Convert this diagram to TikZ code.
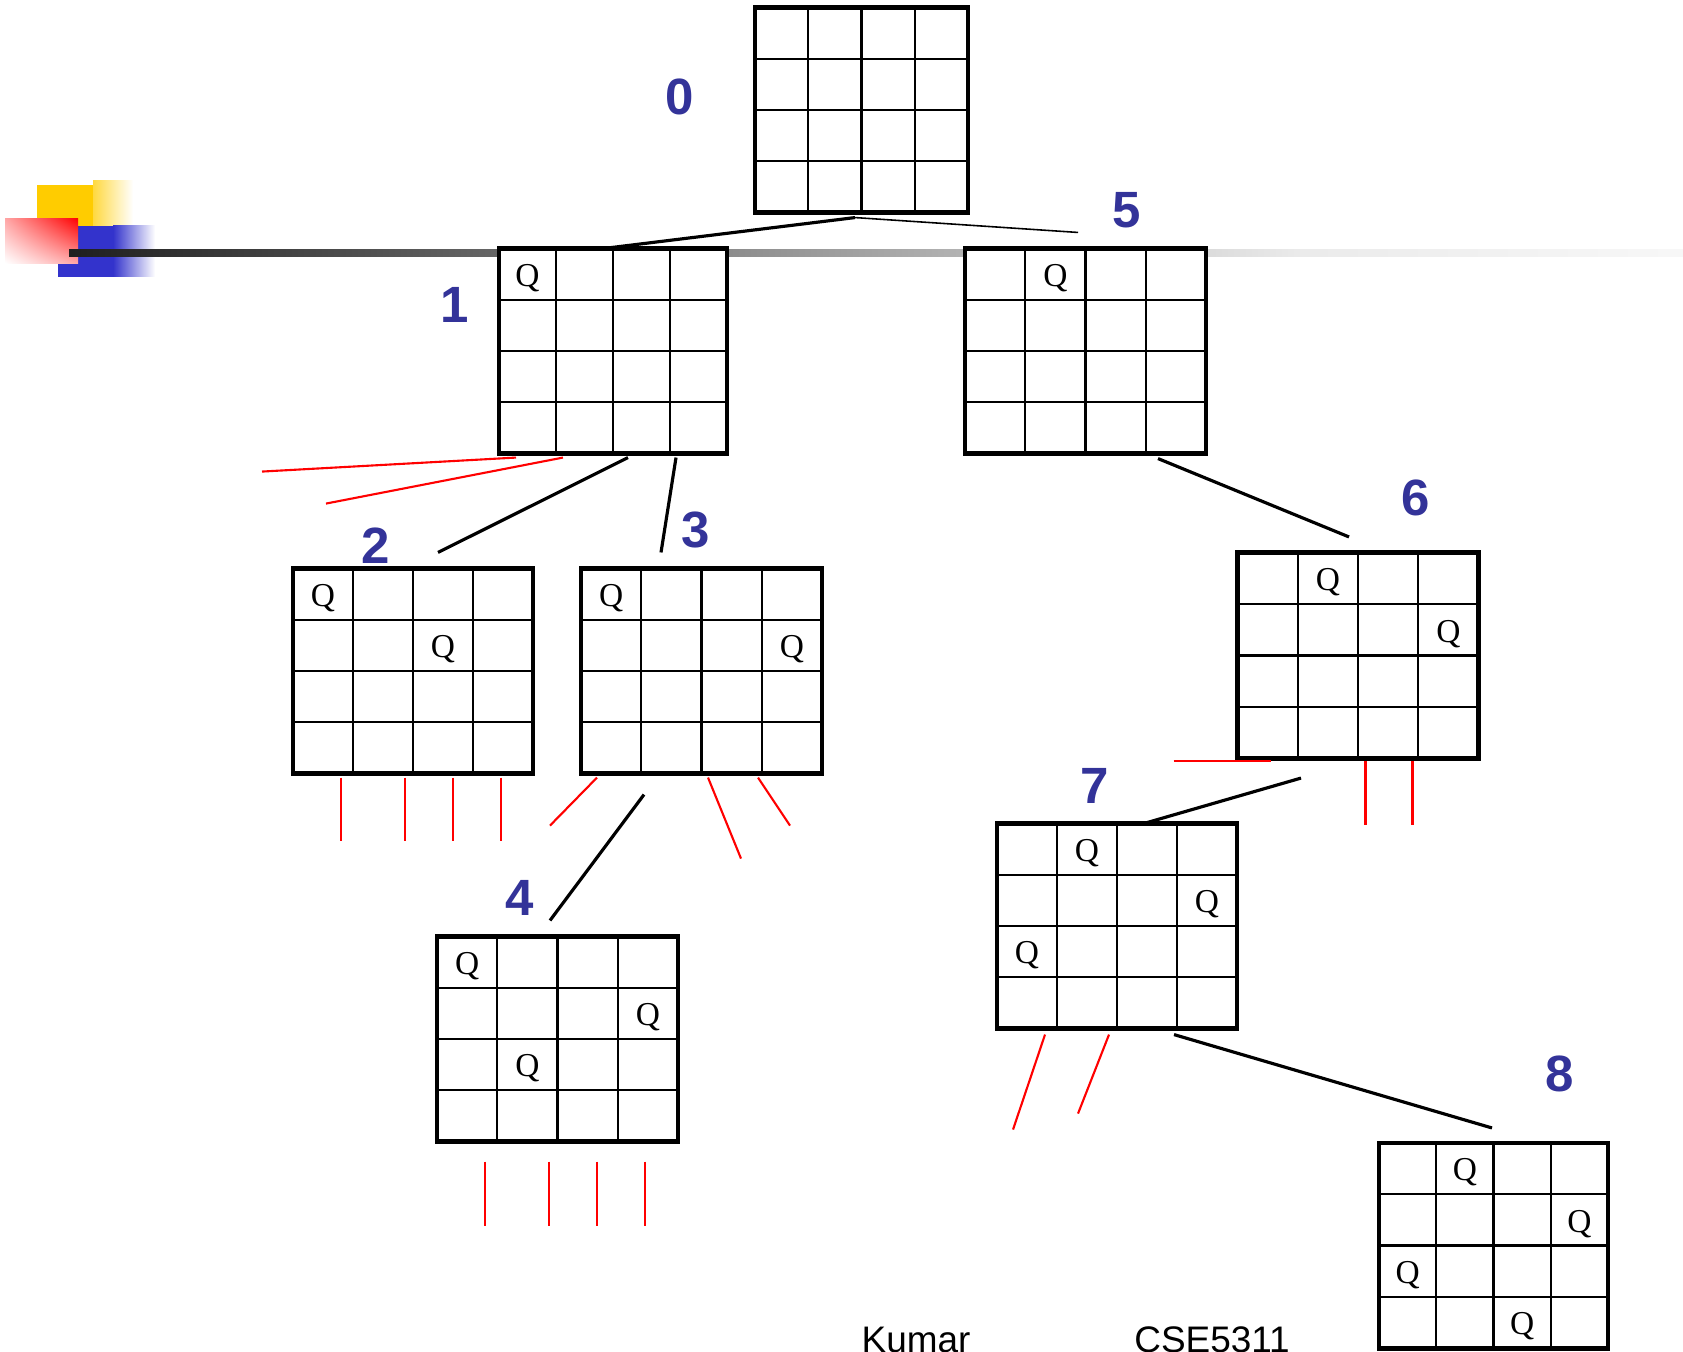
\documentclass[tikz,border=0pt]{standalone}
\usepackage{fontspec}
\setmainfont{Liberation Serif}
\setsansfont{Liberation Sans}
\usetikzlibrary{calc, shadings}

\definecolor{levelblue}{RGB}{51,51,153}
\definecolor{deckyellow}{RGB}{255,204,0}
\definecolor{deckblue}{RGB}{51,51,204}

%% board: name, centre x, centre y, width (px), queens as col/row
\newcommand{\drawboard}[5]{%
  \node[board, minimum width={#4*0.01cm}] (#1) at (#2,#3) {};
  \foreach \k in {1,2,3} {
    \draw[cell] ($(#1.north west)!\k/4!(#1.north east)$) -- ($(#1.south west)!\k/4!(#1.south east)$);
    \draw[cell] ($(#1.north west)!\k/4!(#1.south west)$) -- ($(#1.north east)!\k/4!(#1.south east)$);
  }
  \foreach \c/\r in {#5} {
    \node[queen] (#1-q\c\r) at ($(#1.north west)+({(\c+0.5)*#4/4},{(\r+0.5)*205/4+4})$) {Q};
  }
}

\begin{document}
\begin{tikzpicture}[
  x=0.01cm, y=-0.01cm,
  %% Board and cell styles
  board/.style={
    draw=black, fill=white, line width=1.4pt,
    minimum height=2.05cm, inner sep=0pt, outer sep=0pt
  },
  cell/.style={draw=black, line width=0.6pt},
  queen/.style={inner sep=0pt, font=\fontsize{9.5}{11}\selectfont},
  %% Labels
  level/.style={
    inner sep=0pt, text=levelblue,
    font=\sffamily\bfseries\fontsize{14.5}{17}\selectfont
  },
  footer/.style={inner sep=0pt, font=\sffamily\fontsize{10.5}{12}\selectfont},
  %% Tree edges
  branch/.style={draw=black, line width=0.9pt},
  thinbranch/.style={draw=black, line width=0.45pt},
  pruned/.style={draw=red, line width=0.6pt},
]
\useasboundingbox (0,0) rectangle (1683,1351);

%% ── SLIDE DECORATION ──────────────────────────────────────────────────────
\fill[deckyellow] (37,185) rectangle (93,226);
\shade[left color=deckyellow!75, right color=white] (93,180) rectangle (133,226);
\fill[deckblue] (58,226) rectangle (113,277);
\shade[left color=deckblue, right color=white] (113,225) rectangle (155,276);
\shade[upper right=red, upper left=red!35, lower right=red!35, lower left=white]
  (5,218) rectangle (78,263);
\shade[left color=black!88, right color=black!8] (69,249) rectangle (1300,256);
\shade[left color=black!8, right color=black!3] (1300,249) rectangle (1683,256);

%% ── BOARDS ────────────────────────────────────────────────────────────────
\drawboard{b0}{861.5}{110}{213}{}
\drawboard{b1}{613}{351}{228}{0/0}
\drawboard{b5}{1085.5}{351}{241}{1/0}
\drawboard{b2}{413}{671}{240}{0/0, 2/1}
\drawboard{b3}{701.5}{671}{241}{0/0, 3/1}
\drawboard{b6}{1358}{655.5}{241}{1/0, 3/1}
\drawboard{b7}{1117}{926}{240}{1/0, 3/1, 0/2}
\drawboard{b4}{557.5}{1039}{241}{0/0, 3/1, 1/2}
\drawboard{b8}{1493.5}{1245.5}{229}{1/0, 3/1, 0/2, 2/3}

%% ── LEVEL NUMBERS ─────────────────────────────────────────────────────────
\node[level] (l0) at (680,97)     {0};
\node[level] (l1) at (455,305)    {1};
\node[level] (l2) at (376,546)    {2};
\node[level] (l3) at (695.5,530)  {3};
\node[level] (l4) at (519.5,897.5){4};
\node[level] (l5) at (1127,210)   {5};
\node[level] (l6) at (1416,498)   {6};
\node[level] (l7) at (1095,786)   {7};
\node[level] (l8) at (1559.5,1073.5) {8};

%% ── TREE EDGES ────────────────────────────────────────────────────────────
\draw[branch]     ($(b0.south)+(-6.5,5)$) -- ($(b1.north)+(-9,0)$);
\draw[thinbranch] ($(b0.south)+(-6.5,5)$) -- ($(b5.north)+(-7.5,-16)$);
\draw[branch] ($(b1.south)+(15,4)$)    -- ($(b2.north)+(25,-16)$);
\draw[branch] ($(b1.south)+(63,4)$)    -- ($(b3.north)+(-40.5,-16)$);
\draw[branch] ($(b3.south)+(-57.5,21)$) -- ($(b4.north)+(-7.5,-16)$);
\draw[branch] ($(b5.south)+(72.5,5)$)  -- ($(b6.north)+(-9,-16)$);
\draw[branch] ($(b6.south)+(-57,20)$)  -- ($(b7.north)+(27,0)$);
\draw[branch] ($(b7.south)+(57,6)$)    -- ($(b8.north)+(-1.5,-15)$);

%% ── PRUNED BRANCHES ───────────────────────────────────────────────────────
\draw[pruned] ($(b1.south west)+(17,4)$) -- ++(-254,14);
\draw[pruned] ($(b1.south west)+(64,4)$) -- ++(-237,46);
\foreach \dx in {48,112,160,208}
  \draw[pruned] ($(b2.south west)+(\dx,4)$) -- ++(0,63);
\draw[pruned] ($(b3.south west)+(16,4)$)  -- ++(-47,48);
\draw[pruned] ($(b3.south west)+(127,4)$) -- ++(33,81);
\draw[pruned] ($(b3.south west)+(177,4)$) -- ++(32,48);
\draw[pruned] ($(b6.south west)+(-64,3)$) -- ++(97,0);
\foreach \dx in {128,175}
  \draw[pruned] ($(b6.south west)+(\dx,3)$) -- ++(0,64);
\draw[pruned] ($(b7.south west)+(48,6)$)  -- ++(-32,95);
\draw[pruned] ($(b7.south west)+(112,6)$) -- ++(-31,79);
\foreach \dx in {48,112,160,208}
  \draw[pruned] ($(b4.south west)+(\dx,20)$) -- ++(0,64);

%% ── FOOTER ────────────────────────────────────────────────────────────────
\node[footer, anchor=base] (author) at (916,1352)  {Kumar};
\node[footer, anchor=base] (course) at (1212,1352) {CSE5311};

\end{tikzpicture}
\end{document}
